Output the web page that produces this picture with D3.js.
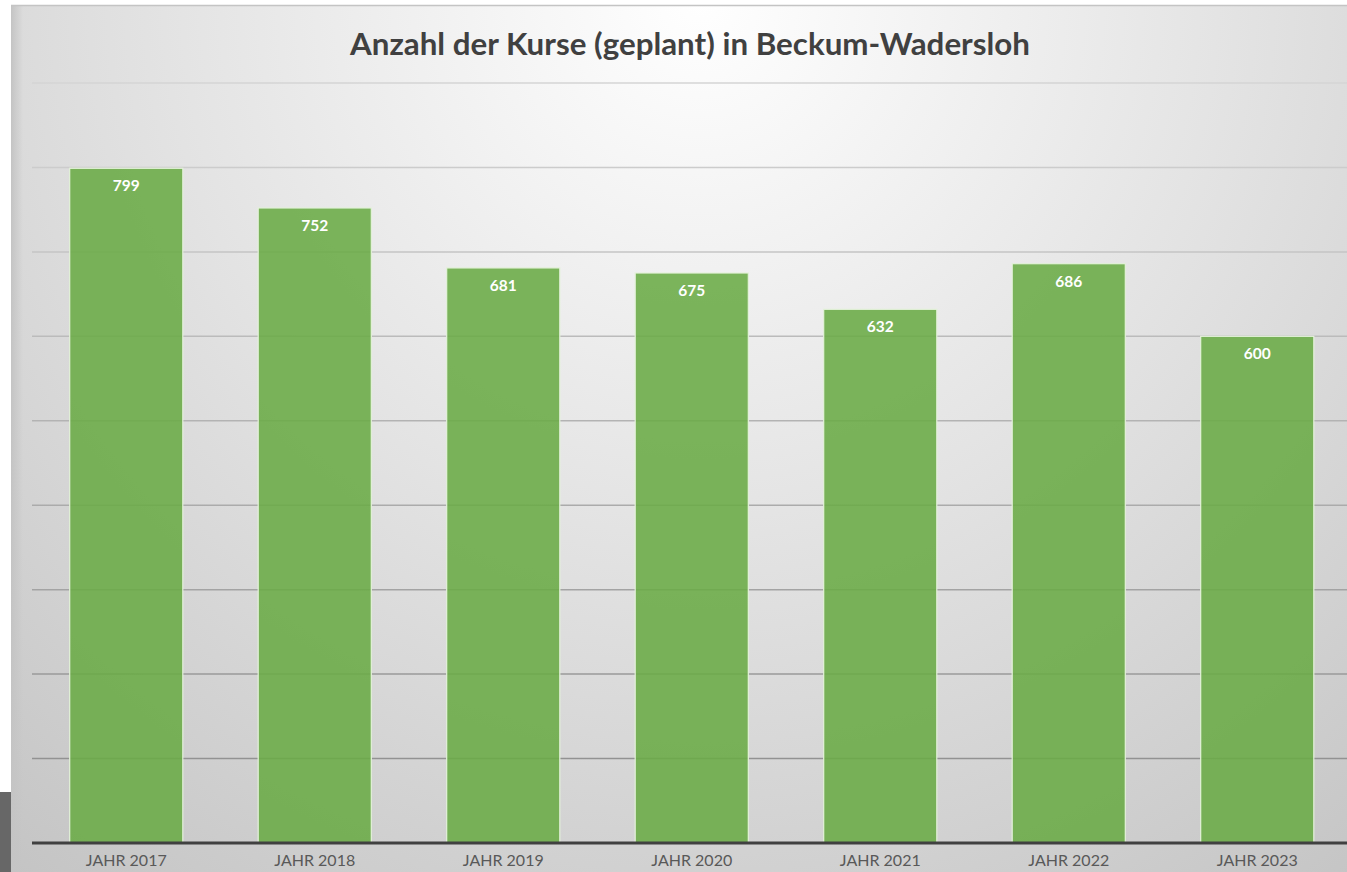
<!DOCTYPE html>
<html><head><meta charset="utf-8">
<script src="https://cdn.jsdelivr.net/npm/d3@7"></script>
<style>html,body{margin:0;padding:0;background:#fff;overflow:hidden}svg{display:block}</style>
</head><body>
<script>
const categories = ["JAHR 2017","JAHR 2018","JAHR 2019","JAHR 2020","JAHR 2021","JAHR 2022","JAHR 2023"];
const values = [799, 752, 681, 675, 632, 686, 600];
const yTicks = [0,100,200,300,400,500,600,700,800,900];
const title = "Anzahl der Kurse (geplant) in Beckum-Wadersloh";

const W = 1347, H = 872;
const svg = d3.select("body").append("svg").attr("width", W).attr("height", H);
const defs = svg.append("defs");
const rg = defs.append("radialGradient").attr("id","bg")
  .attr("gradientUnits","userSpaceOnUse").attr("cx",700).attr("cy",0).attr("r",1150)
  .attr("fx",700).attr("fy",0);
rg.append("stop").attr("offset","0%").attr("stop-color","#ffffff");
rg.append("stop").attr("offset","45%").attr("stop-color","#e4e4e4");
rg.append("stop").attr("offset","100%").attr("stop-color","#c2c2c2");
const lg = defs.append("linearGradient").attr("id","ledge").attr("x1",0).attr("x2",1);
lg.append("stop").attr("offset","0%").attr("stop-color","#c4c4c4");
lg.append("stop").attr("offset","100%").attr("stop-color","#c4c4c4").attr("stop-opacity",0);

svg.append("rect").attr("x",11).attr("y",5).attr("width",W-11).attr("height",H-5).attr("fill","url(#bg)");
svg.append("rect").attr("x",11).attr("y",5).attr("width",12).attr("height",H-5).attr("fill","url(#ledge)");
svg.append("line").attr("x1",11).attr("x2",W).attr("y1",5.5).attr("y2",5.5).attr("stroke","#c4c4c4").attr("stroke-width",1.5);
svg.append("rect").attr("x",0).attr("y",792).attr("width",11).attr("height",H-792).attr("fill","#676767");

const x = d3.scaleBand().domain(categories).range([32, 1351.5]).paddingInner(0.4).paddingOuter(0.2);
const y = d3.scaleLinear().domain([0,900]).range([843, 83]);

svg.append("g").selectAll("line").data(yTicks.slice(1)).join("line")
  .attr("x1",32).attr("x2",W).attr("y1",d=>y(d)).attr("y2",d=>y(d))
  .attr("stroke",(d)=>d3.interpolateRgb("#d4d4d4","#8a8a8a")(1 - d/900)).attr("stroke-width",1.5);

svg.append("g").selectAll("rect").data(values).join("rect")
  .attr("x",(d,i)=>x(categories[i])).attr("width",x.bandwidth())
  .attr("y",d=>y(d)).attr("height",d=>y(0)-y(d))
  .attr("fill","#6aab45").attr("fill-opacity",0.88)
  .attr("stroke","#e4f2da").attr("stroke-width",1.2);

svg.append("g").selectAll("text").data(values).join("text")
  .attr("x",(d,i)=>x(categories[i])+x.bandwidth()/2).attr("y",d=>y(d)+23)
  .attr("text-anchor","middle").attr("font-family","Lato, 'Open Sans', sans-serif")
  .attr("font-weight","bold").attr("font-size",15.5).attr("fill","#ffffff").text(d=>d);

const xAxis = d3.axisBottom(x).tickSize(0).tickPadding(12);
const ax = svg.append("g").attr("transform","translate(0,843)").call(xAxis);
ax.select(".domain").remove();
ax.selectAll("text").attr("font-family","Lato, 'Open Sans', sans-serif").attr("font-size",16).attr("fill","#595959");
svg.append("line").attr("x1",32).attr("x2",W).attr("y1",843).attr("y2",843).attr("stroke","#404040").attr("stroke-width",3);

svg.append("text").attr("x",690).attr("y",55).attr("text-anchor","middle")
  .attr("font-family","Lato, 'Open Sans', sans-serif").attr("font-weight","bold")
  .attr("font-size",30).attr("textLength",680).attr("lengthAdjust","spacingAndGlyphs")
  .attr("fill","#404040").text(title);
</script>
</body></html>
